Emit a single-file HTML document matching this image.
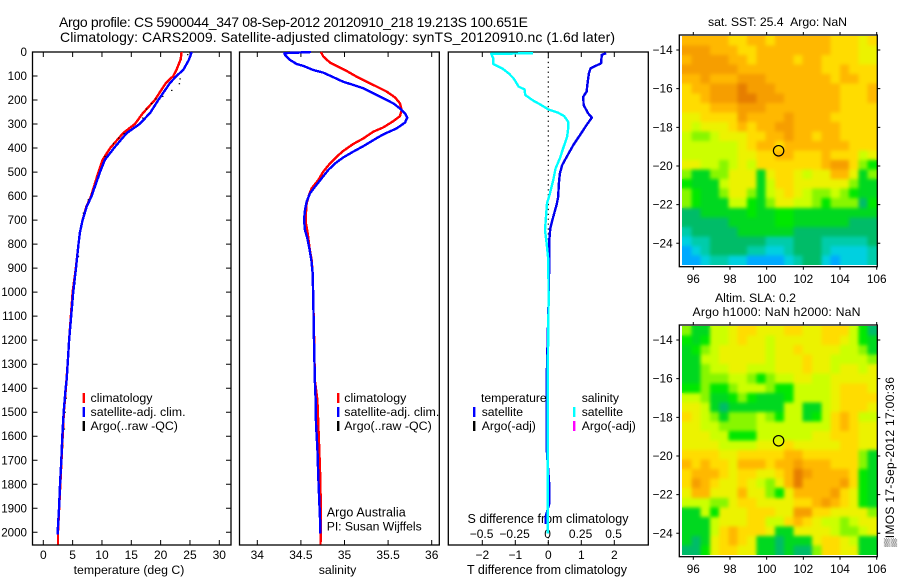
<!DOCTYPE html>
<html>
<head>
<meta charset="utf-8">
<title>Argo profile</title>
<style>
html,body{margin:0;padding:0;background:#fff;}
svg{display:block;}
text{font-family:"Liberation Sans",sans-serif;fill:#000;}
</style>
</head>
<body>
<svg id="chart" xmlns="http://www.w3.org/2000/svg" width="900" height="580" viewBox="0 0 900 580">
<defs>
<filter id="map-smooth" x="-5%" y="-5%" width="110%" height="110%" color-interpolation-filters="sRGB">
<feGaussianBlur in="SourceGraphic" stdDeviation="1.9" result="soft"/>
<feMerge><feMergeNode in="SourceGraphic"/><feMergeNode in="soft"/></feMerge>
</filter>
</defs>
<rect x="0" y="0" width="900" height="580" fill="#fff"/>
<text x="59" y="27" font-size="14" textLength="469">Argo profile: CS 5900044_347 08-Sep-2012 20120910_218 19.213S 100.651E</text>
<text x="60" y="42" font-size="14" textLength="555">Climatology: CARS2009. Satellite-adjusted climatology: synTS_20120910.nc (1.6d later)</text>
<text x="129" y="574" font-size="12.3" text-anchor="middle">temperature (deg C)</text>
<text x="337.5" y="574" font-size="12.3" text-anchor="middle">salinity</text>
<text x="547" y="574" font-size="12.5" text-anchor="middle">T difference from climatology</text>
<text x="548" y="523" font-size="12.5" text-anchor="middle">S difference from climatology</text>
<text x="326.7" y="516.7" font-size="12.5" textLength="79">Argo Australia</text>
<text x="326.7" y="530.7" font-size="12.2" textLength="95">PI: Susan Wijffels</text>
<text x="708" y="26" font-size="12.3" textLength="139">sat. SST: 25.4&#160;&#160;Argo: NaN</text>
<text x="715" y="302" font-size="12.3" textLength="81">Altim. SLA: 0.2</text>
<text x="692.5" y="316" font-size="12.3" textLength="168">Argo h1000: NaN h2000: NaN</text>
<text x="0" y="0" font-size="12" textLength="170" transform="translate(894,547) rotate(-90)">▒IMOS 17-Sep-2012 17:00:36</text>
</svg>
<script>
// ---- profile data ----
const depthTicks = [0,100,200,300,400,500,600,700,800,900,1000,1100,1200,1300,1400,1500,1600,1700,1800,1900,2000];
const tempTicks = [0,5,10,15,20,25,30];
const salTicks = [34,34.5,35,35.5,36];
const salTickLabels = ['34','34.5','35','35.5','36'];
const tDiffTicks = [-2,-1,0,1,2];
const tDiffTickLabels = ['−2','−1','0','1','2'];
const sDiffTicks = [-0.5,-0.25,0,0.25,0.5];
const sDiffTickLabels = ['−0.5','−0.25','0','0.25','0.5'];

const tempClimDepth = [0,32,74,100,129,200,254,300,338,400,449,500,560,600,643,700,750,800,900,1000,1100,1200,1300,1400,1500,1600,1700,1800,1900,2000,2050];
const tempClimValue = [23.58,23.4,22.7,22.15,20.9,19.0,17.0,15.6,13.6,11.4,10.1,9.4,8.64,8.15,7.35,6.7,6.25,6.0,5.55,5.0,4.7,4.4,4.15,3.85,3.5,3.3,3.1,2.9,2.7,2.5,2.5];
const tempSatDepth = [0,32,74,100,129,200,254,300,338,400,449,500,560,600,643,700,750,800,900,1000,1100,1200,1300,1365,1400,1500,1600,1700,1800,1900,2000,2010];
const tempSatValue = [25.3,24.83,23.87,22.7,21.6,19.6,18.2,16.4,14.2,12.05,10.5,9.66,8.8,8.24,7.4,6.7,6.25,6.0,5.57,5.1,4.75,4.4,4.15,3.98,3.81,3.47,3.24,3.07,2.85,2.68,2.45,2.45];
const tempArgoDepth = [11,46,112,132,160,185,196,215,238,275,310,326,340,358,382,435,463,504,525,587,615,650,671,851,907,962,1004,1442,1500,1570,1640,1780,1835];
const tempArgoValue = [24.6,24.43,23.3,23.18,21.88,20.35,19.2,18.47,17.6,16.94,15.63,14.78,13.75,12.85,11.93,10.5,10.12,9.5,9.38,8.24,7.67,7.28,6.82,5.97,5.57,5.4,5.11,3.87,3.7,3.58,3.3,2.96,2.85];

const salClimDepth = [0,19,44,58,79,103,124,144,165,189,214,242,267,288,314,332,360,383,412,436,464,498,533,568,596,630,686,714,755,811,867,922,1033,1200,1367,1450,1554,1658,1783,1950,2050];
const salClimValue = [34.73,34.757,34.834,34.91,35.025,35.14,35.254,35.369,35.484,35.579,35.636,35.656,35.636,35.56,35.445,35.33,35.216,35.10,34.986,34.91,34.834,34.757,34.70,34.623,34.593,34.566,34.555,34.558,34.578,34.597,34.623,34.635,34.642,34.652,34.66,34.689,34.70,34.711,34.723,34.73,34.725];
const salSatDepth = [0,5,12,33,50,58,75,86,105,124,137,151,172,193,214,235,256,273,294,318,343,367,392,415,439,464,491,526,561,589,623,658,700,742,776,818,867,922,1033,1200,1367,1450,1548,1650,1775,1950,2005];
const salSatValue = [34.616,34.31,34.318,34.375,34.451,34.528,34.642,34.757,34.872,34.986,35.10,35.216,35.33,35.445,35.56,35.636,35.694,35.72,35.694,35.598,35.445,35.33,35.216,35.10,34.986,34.891,34.815,34.738,34.662,34.604,34.566,34.547,34.536,34.547,34.574,34.597,34.62,34.635,34.642,34.65,34.66,34.669,34.673,34.689,34.70,34.72,34.723];

const tDiffDepth = [5,12,47,68,89,130,165,186,221,256,273,304,346,387,436,471,506,547,603,637,686,735,783,867,1033,1367,1650,1805,1880,1935,1965];
const tDiffValue = [1.75,1.62,1.6,1.28,1.23,1.19,1.16,1.06,1.07,1.21,1.32,1.16,0.96,0.76,0.56,0.42,0.35,0.32,0.30,0.25,0.15,0.06,0.03,0.03,0.01,-0.05,-0.05,0.03,0.03,-0.08,-0.08];
const sDiffDepth = [5,8,25,50,68,89,110,144,156,179,203,218,239,253,267,290,311,353,401,443,485,533,589,631,686,742,797,867,1033,1367,1650,2005];
const sDiffValue = [-0.1175,-0.4325,-0.4175,-0.4175,-0.35,-0.30,-0.2625,-0.225,-0.18,-0.175,-0.1125,-0.0625,0,0.075,0.12,0.15,0.1525,0.1425,0.1125,0.0875,0.055,0.0375,0.0125,-0.01,-0.0175,-0.025,-0.0125,0,0.0025,-0.005,-0.005,-0.005];

// ---- map data (colour-scale level per grid cell, north to south) ----
const mapLonTicks = [96,98,100,102,104,106];
const mapLatTicks = [-14,-16,-18,-20,-22,-24];
const floatLon = 100.651;
const floatLat = -19.213;
const sstLevels = [
[10,10,10,10,10,9,9,10,10,9,10,10,10,10,10,10,9,9,9,8,9],
[11,11,11,10,10,10,9,9,10,10,10,10,10,10,10,10,9,9,9,8,8],
[10,11,11,11,11,10,10,9,10,10,10,10,9,10,10,9,9,9,9,8,8],
[11,11,11,11,11,11,10,10,10,10,10,10,10,10,10,9,9,10,9,9,9],
[10,10,11,10,10,10,11,11,11,10,10,10,10,10,10,10,9,10,10,9,9],
[9,10,10,11,11,11,12,11,11,11,10,10,10,10,10,10,10,9,9,9,10],
[9,9,10,11,11,11,12,12,11,11,11,10,10,10,10,10,10,9,9,9,10],
[9,9,9,10,10,10,11,11,11,10,10,10,10,10,10,10,10,9,9,9,9],
[8,8,9,9,9,9,11,10,10,10,10,11,10,10,10,10,9,9,9,9,9],
[8,7,8,8,8,9,10,9,10,10,11,11,10,10,10,10,10,9,9,9,9],
[7,6,6,7,8,8,8,9,9,10,10,11,10,10,9,10,10,9,9,9,9],
[7,7,7,7,7,7,8,9,10,10,9,10,10,10,10,10,10,10,9,9,9],
[7,7,7,7,7,7,8,8,9,9,10,10,9,9,9,10,9,9,9,7,8],
[8,8,7,7,6,7,8,7,9,9,9,9,9,9,9,10,11,11,9,6,5],
[6,4,4,6,6,8,8,8,4,8,9,9,8,7,8,8,10,10,8,4,6],
[5,4,4,4,7,8,8,8,4,7,9,9,8,8,8,8,8,8,6,4,4],
[6,5,4,4,6,8,8,6,4,7,8,9,8,7,6,6,7,6,5,4,4],
[6,5,4,4,4,7,7,5,4,6,8,8,7,7,6,5,6,6,6,3,5],
[3,3,4,4,4,4,4,5,4,4,5,5,4,4,4,4,4,4,4,4,4],
[3,3,3,3,3,4,4,4,4,4,5,5,4,4,4,4,4,4,3,3,3],
[2,3,3,3,3,3,4,4,4,4,4,4,3,3,3,3,3,3,3,3,3],
[1,2,2,3,3,3,3,3,3,2,2,2,3,3,3,2,2,2,2,2,3],
[0,1,2,3,3,3,3,2,2,1,1,2,3,3,3,2,1,1,1,1,2],
[0,0,1,2,2,1,1,0,0,0,0,1,2,3,3,1,0,1,1,1,2]
];
const slaLevels = [
[6,4,4,7,7,8,9,9,8,8,8,9,9,8,8,9,9,9,7,5,3],
[5,4,5,7,7,8,9,8,8,7,8,8,8,8,8,9,9,8,7,5,4],
[4,5,6,7,8,8,8,8,8,7,8,8,9,8,8,8,8,7,7,6,4],
[4,4,7,7,8,8,8,8,8,7,8,8,8,9,8,8,7,7,7,7,6],
[4,4,6,7,7,8,8,7,7,7,8,8,8,9,8,8,7,8,8,7,8],
[4,4,6,6,6,7,7,6,5,6,7,7,8,8,7,7,8,8,8,8,8],
[5,5,6,5,5,6,7,7,7,6,5,5,7,7,7,7,8,9,9,9,8],
[7,7,6,4,4,5,6,5,4,4,4,5,7,7,7,7,8,9,9,9,9],
[8,8,7,4,3,4,4,4,4,4,4,7,7,4,4,7,8,9,9,9,8],
[9,8,7,6,4,6,6,6,7,6,5,7,7,4,5,7,9,10,9,7,7],
[8,8,7,7,6,6,6,6,7,7,7,7,7,7,7,7,9,10,9,8,8],
[8,8,8,7,7,5,5,5,7,7,7,7,7,7,8,8,9,9,9,8,8],
[8,8,8,8,7,7,7,7,8,8,8,9,8,8,8,8,8,9,9,8,8],
[9,9,9,9,8,8,9,9,9,9,9,10,10,9,9,9,9,9,9,6,4],
[10,9,10,9,9,8,10,10,10,9,10,10,11,10,10,10,9,9,9,6,4],
[9,10,10,10,9,8,9,9,8,8,9,10,12,11,10,10,10,10,9,5,4],
[9,11,10,9,8,8,9,8,7,6,8,10,12,10,10,10,10,11,9,5,4],
[8,10,10,8,8,8,10,8,8,6,5,8,10,10,10,10,11,9,8,5,4],
[7,7,7,6,6,8,9,9,8,8,8,8,9,9,10,11,10,9,8,5,4],
[4,4,7,5,8,8,8,9,9,9,8,8,11,11,9,9,8,8,8,8,6],
[4,4,4,7,8,8,8,9,9,7,7,9,10,9,8,7,7,6,7,8,8],
[4,4,4,7,9,10,9,9,9,8,4,4,8,8,8,8,7,6,6,7,8],
[4,3,4,8,9,10,9,8,4,4,3,4,4,4,8,9,9,8,7,4,4],
[3,3,5,8,9,9,8,8,4,4,3,4,3,3,6,9,9,8,8,4,4]
];
const levelColors = ['#00aaff','#00d0e0','#00ccaa','#00bc68','#00d820','#00e800','#88f600','#ccff00','#ecf200','#ffdc00','#ffb800','#f69e00','#e67e00'];

// ---- helpers ----
const svg = document.getElementById('chart');
const NS = 'http://www.w3.org/2000/svg';
function el(tag, attrs, parent){
  const e = document.createElementNS(NS, tag);
  for (const k in attrs) e.setAttribute(k, attrs[k]);
  (parent || svg).appendChild(e);
  return e;
}
function linear(d0, d1, r0, r1){
  return v => r0 + (v - d0) * (r1 - r0) / (d1 - d0);
}
function pathOf(vals, depths, x, y){
  return vals.map((v, i) => (i ? 'L' : 'M') + x(v).toFixed(2) + ' ' + y(depths[i]).toFixed(2)).join('');
}

// ---- scales ----
const yDepth = linear(0, 2000, 52, 532.3);
const xTemp = linear(0, 30, 43.3, 219.3);
const xSal = linear(34, 36, 257.3, 431.7);
const xTDiff = linear(0, 2, 548.3, 614.3);
const xSDiff = linear(0, 0.5, 548.3, 614.3);
const plotTop = 52, plotBottom = 545;

function frame(x0, x1, y0, y1, name){
  const r = el('rect', {x:x0, y:y0, width:x1-x0, height:y1-y0, fill:'none', stroke:'#000', 'stroke-width':1.3});
  
  
}
function profileXAxis(ticks, labels, scale, name, baseline, y0, y1){
  ticks.forEach((t, i) => {
    const px = scale(t);
    const a = el('path', {d:'M'+px+' '+y0+'v5M'+px+' '+y1+'v-5', stroke:'#000', 'stroke-width':1, fill:'none'});
    
    
    const lb = el('text', {x:px, y:baseline, 'font-size':12, 'text-anchor':'middle'});
    lb.textContent = labels[i];
    
    
  });
}
function profileLine(vals, depths, x, color, name, width){
  const p = el('path', {d:pathOf(vals, depths, x, yDepth), fill:'none', stroke:color, 'stroke-width':width, 'shape-rendering':'crispEdges', 'stroke-linejoin':'round'});
  
  
}
function legendRow(mx, tx, base, color, label, name, size){
  if (color) {
    const m = el('rect', {x:mx, y:base-9, width:2.4, height:10, fill:color});
    
    
  }
  const t = el('text', {x:tx, y:base, 'font-size':size});
  t.textContent = label;
  
  
}

// ---- temperature panel ----
frame(32.5, 231, plotTop, plotBottom, 'temperature-panel-frame');
depthTicks.forEach(d => {
  const py = yDepth(d);
  const tk = el('path', {d:'M32.5 '+py+'h5M231 '+py+'h-5', stroke:'#000', 'stroke-width':1, fill:'none'});
  
  
  const lb = el('text', {x:27, y:py+4, 'font-size':11.6, 'text-anchor':'end'});
  lb.textContent = String(d);
  
  
});
profileXAxis(tempTicks, tempTicks.map(String), xTemp, 'temperature-axis', 559, plotTop, plotBottom);
profileLine(tempClimValue, tempClimDepth, xTemp, '#ff0000', 'temperature-climatology-line', 2.4);
tempArgoValue.forEach((v, i) => {
  const dot = el('rect', {x:xTemp(v)-0.6, y:yDepth(tempArgoDepth[i])-0.6, width:1.4, height:1.2, fill:'#000'});
  
  
});
profileLine(tempSatValue, tempSatDepth, xTemp, '#0000ff', 'temperature-satellite-line', 2.4);
legendRow(82.6, 90.5, 402, '#ff0000', 'climatology', 'temperature-legend-climatology', 12.4);
legendRow(82.6, 90.5, 416, '#0000ff', 'satellite-adj. clim.', 'temperature-legend-satellite', 12.4);
legendRow(82.6, 90.5, 430, '#000000', 'Argo(..raw -QC)', 'temperature-legend-argo', 12.4);

// ---- salinity panel ----
frame(239.5, 439.3, plotTop, plotBottom, 'salinity-panel-frame');
profileXAxis(salTicks, salTickLabels, xSal, 'salinity-axis', 559, plotTop, plotBottom);
profileLine(salClimValue, salClimDepth, xSal, '#ff0000', 'salinity-climatology-line', 2.4);
profileLine(salSatValue, salSatDepth, xSal, '#0000ff', 'salinity-satellite-line', 2.4);
legendRow(337, 344.3, 402, '#ff0000', 'climatology', 'salinity-legend-climatology', 12.4);
legendRow(337, 344.3, 416, '#0000ff', 'satellite-adj. clim.', 'salinity-legend-satellite', 12.4);
legendRow(337, 344.3, 430, '#000000', 'Argo(..raw -QC)', 'salinity-legend-argo', 12.4);

// ---- difference panel ----
frame(448.3, 648.3, plotTop, plotBottom, 'difference-panel-frame');
profileXAxis(tDiffTicks, tDiffTickLabels, xTDiff, 't-difference-axis', 559, plotTop, plotBottom);
sDiffTicks.forEach((t, i) => {
  const lb = el('text', {x:xSDiff(t)-0.7, y:538, 'font-size':12, 'text-anchor':'middle'});
  lb.textContent = sDiffTickLabels[i];
  
  
});
const zeroLine = el('line', {x1:xTDiff(0), x2:xTDiff(0), y1:plotTop, y2:plotBottom, stroke:'#000', 'stroke-width':1.2, 'stroke-dasharray':'1.3 3.6'});


profileLine(tDiffValue, tDiffDepth, xTDiff, '#0000ee', 't-difference-line', 2.4);
profileLine(sDiffValue, sDiffDepth, xSDiff, '#00ffff', 's-difference-line', 2.4);
legendRow(0, 481, 402, null, 'temperature', 'difference-legend-temperature-heading', 12.2);
legendRow(473, 481.7, 416, '#0000ff', 'satellite', 'difference-legend-t-satellite', 12.2);
legendRow(473, 481.7, 430, '#000000', 'Argo(-adj)', 'difference-legend-t-argo', 12.2);
legendRow(0, 581.7, 402, null, 'salinity', 'difference-legend-salinity-heading', 12.2);
legendRow(573, 581.7, 416, '#00ffff', 'satellite', 'difference-legend-s-satellite', 12.2);
legendRow(573, 581.7, 430, '#ff00ff', 'Argo(-adj)', 'difference-legend-s-argo', 12.2);

// ---- maps ----
function drawMap(levels, top, bottom, name){
  const imgTop = top + 1, imgBottom = bottom - 1.7;
  const xLon = linear(96, 106, 693.3, 876.7);
  const yLat = linear(-14, -24, top + 15, top + 208.3);
  const lonLeft = 96 + (682 - 693.3) / 18.34;
  const lonStep = (877 - 682) / 18.34 / 21;
  const latTop = -14 + (top + 15 - imgTop) / 19.33;
  const latStep = (imgBottom - imgTop) / 19.33 / 24;
  const clip = el('clipPath', {id:name + '-clip'});
  el('rect', {x:682, y:imgTop, width:195, height:imgBottom-imgTop}, clip);
  const clipGroup = el('g', {'clip-path':'url(#' + name + '-clip)'});
  
  
  const soft = el('g', {filter:'url(#map-smooth)'}, clipGroup);
  levels.forEach((row, r) => {
    row.forEach((lv, c) => {
      const x0 = xLon(lonLeft + c * lonStep), x1 = xLon(lonLeft + (c + 1) * lonStep);
      const y0 = yLat(latTop - r * latStep), y1 = yLat(latTop - (r + 1) * latStep);
      const cell = el('rect', {x:x0, y:y0, width:x1-x0+0.4, height:y1-y0+0.4, fill:levelColors[lv], 'shape-rendering':'crispEdges'}, soft);
      
      
    });
  });
  frame(679.3, 877.3, top, bottom, name + '-frame');
  mapLonTicks.forEach(t => {
    const px = xLon(t);
    const tk = el('path', {d:'M'+px+' '+top+'v-3M'+px+' '+bottom+'v3', stroke:'#000', 'stroke-width':1, fill:'none'});
    
    
    const lb = el('text', {x:px, y:bottom+16.5, 'font-size':11.8, 'text-anchor':'middle'});
    lb.textContent = String(t);
    
    
  });
  mapLatTicks.forEach(t => {
    const py = yLat(t);
    const tk = el('path', {d:'M679.3 '+py+'h-3M877.3 '+py+'h3', stroke:'#000', 'stroke-width':1, fill:'none'});
    
    
    const lb = el('text', {x:672.7, y:py+4, 'font-size':11.8, 'text-anchor':'end'});
    lb.textContent = '−' + Math.abs(t);
    
    
  });
  const marker = el('circle', {cx:xLon(floatLon), cy:yLat(floatLat), r:5.2, fill:'none', stroke:'#000', 'stroke-width':1.2});
  
  
}
drawMap(sstLevels, 35, 266.7, 'sst-map');
drawMap(slaLevels, 325, 556.7, 'sla-map');
</script>
</body>
</html>
